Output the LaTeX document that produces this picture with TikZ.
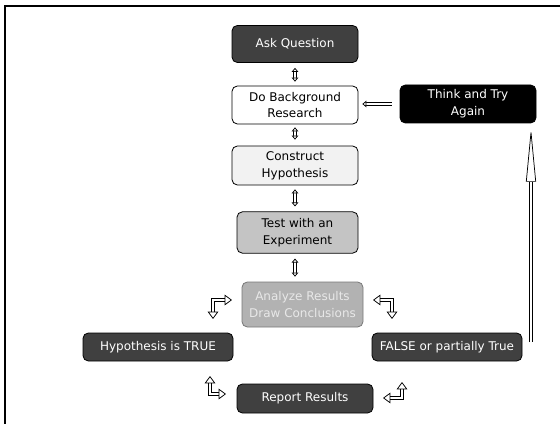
\documentclass[tikz,border=0pt]{standalone}
\usepackage{fontspec}
\setmainfont{DejaVu Sans}
\usetikzlibrary{arrows.meta,calc}
\definecolor{darkbox}{RGB}{64,64,64}
\definecolor{lightbox}{RGB}{242,242,242}
\definecolor{midbox}{RGB}{196,196,196}
\definecolor{fadebox}{RGB}{178,178,178}
\definecolor{fadeline}{RGB}{120,120,120}
\definecolor{fadetext}{RGB}{232,232,232}

\tikzset{
  stepbox/.style={draw=black, rounded corners=4pt, align=center, inner sep=0pt, line width=0.6pt, font=\fontsize{9}{12.5}\selectfont},
  darkstep/.style={stepbox, fill=darkbox, text=white},
  hollow/.style={double=white, double distance=1.8pt, line width=0.55pt, line join=miter},
  htip/.tip={Triangle[open, fill=white, length=3pt, width=5pt]},
  etip/.tip={Triangle[open, fill=white, length=5.5pt, width=8pt]},
  btip/.tip={Triangle[open, fill=white, length=40pt, width=7.5pt]},
}

\begin{document}
\begin{tikzpicture}[x=0.75pt,y=0.75pt,yscale=-1,xscale=1]
\useasboundingbox (0,0) rectangle (560,424);

%Frame
\draw [line width=1.5pt] (4.5,424) -- (4.5,6.5) -- (560,6.5);

% Steps
\node (ask) at (295,44) [darkstep, minimum width=94.5pt, minimum height=27.75pt] {Ask Question};
\node (research) at (295,105) [stepbox, fill=white, minimum width=94.5pt, minimum height=28.5pt] {Do Background\\Research};
\node (hypo) at (295,165.5) [stepbox, fill=lightbox, minimum width=94.5pt, minimum height=29.25pt] {Construct\\Hypothesis};
\node (test) at (297.5,232.5) [stepbox, fill=midbox, minimum width=90.75pt, minimum height=31pt] {Test with an\\Experiment};
\node (analyze) at (302.5,304.5) [stepbox, draw=fadeline, fill=fadebox, text=fadetext, minimum width=90.75pt, minimum height=33.75pt] {Analyze Results\\Draw Conclusions};
\node (true) at (158,347) [darkstep, minimum width=112.5pt, minimum height=21pt] {Hypothesis is TRUE};
\node (false) at (447,347) [darkstep, minimum width=112.5pt, minimum height=21pt] {FALSE or partially True};
\node (report) at (305,398.5) [darkstep, minimum width=102pt, minimum height=21.75pt] {Report Results};
\node (think) at (468,104) [stepbox, fill=black, text=white, minimum width=102pt, minimum height=28.5pt] {Think and Try\\Again};

% Up and down arrows
\draw [hollow, htip-htip] ($(ask.south)+(0,5)$) -- ($(research.north)+(0,-4)$);
\draw [hollow, htip-htip] ($(research.south)+(0,3)$) -- ($(hypo.north)+(0,-6)$);
\draw [hollow, htip-htip] ($(hypo.south)+(0,4)$) -- ($(hypo.south |- test.north)+(0,-5)$);
\draw [hollow, htip-htip] ($(test.south -| hypo.south)+(0,5)$) -- ($(analyze.north -| hypo.south)+(0,-5)$);

% Back to research
\draw [hollow, -htip] ($(think.west)+(-8,0)$) -- ($(think.west -| research.east)+(4,0)$);

% Big arrow up
\coordinate (up) at (531,342);
\draw [hollow, -btip] (up) -- ($(up |- think.south)+(0,5)$);

% Elbow arrows
\coordinate (la) at (232,300);
\coordinate (lb) at (213,319);
\coordinate (ra) at (373,300);
\coordinate (rb) at (392,319);
\coordinate (lc) at (210,376);
\coordinate (ld) at (226,394);
\coordinate (rc) at (402,382);
\coordinate (rd) at (383,398);
\draw [hollow, etip-etip] (la) -| (lb);
\draw [hollow, etip-etip] (ra) -| (rb);
\draw [hollow, etip-etip] (lc) |- (ld);
\draw [hollow, etip-etip] (rd) -| (rc);

\end{tikzpicture}
\end{document}
